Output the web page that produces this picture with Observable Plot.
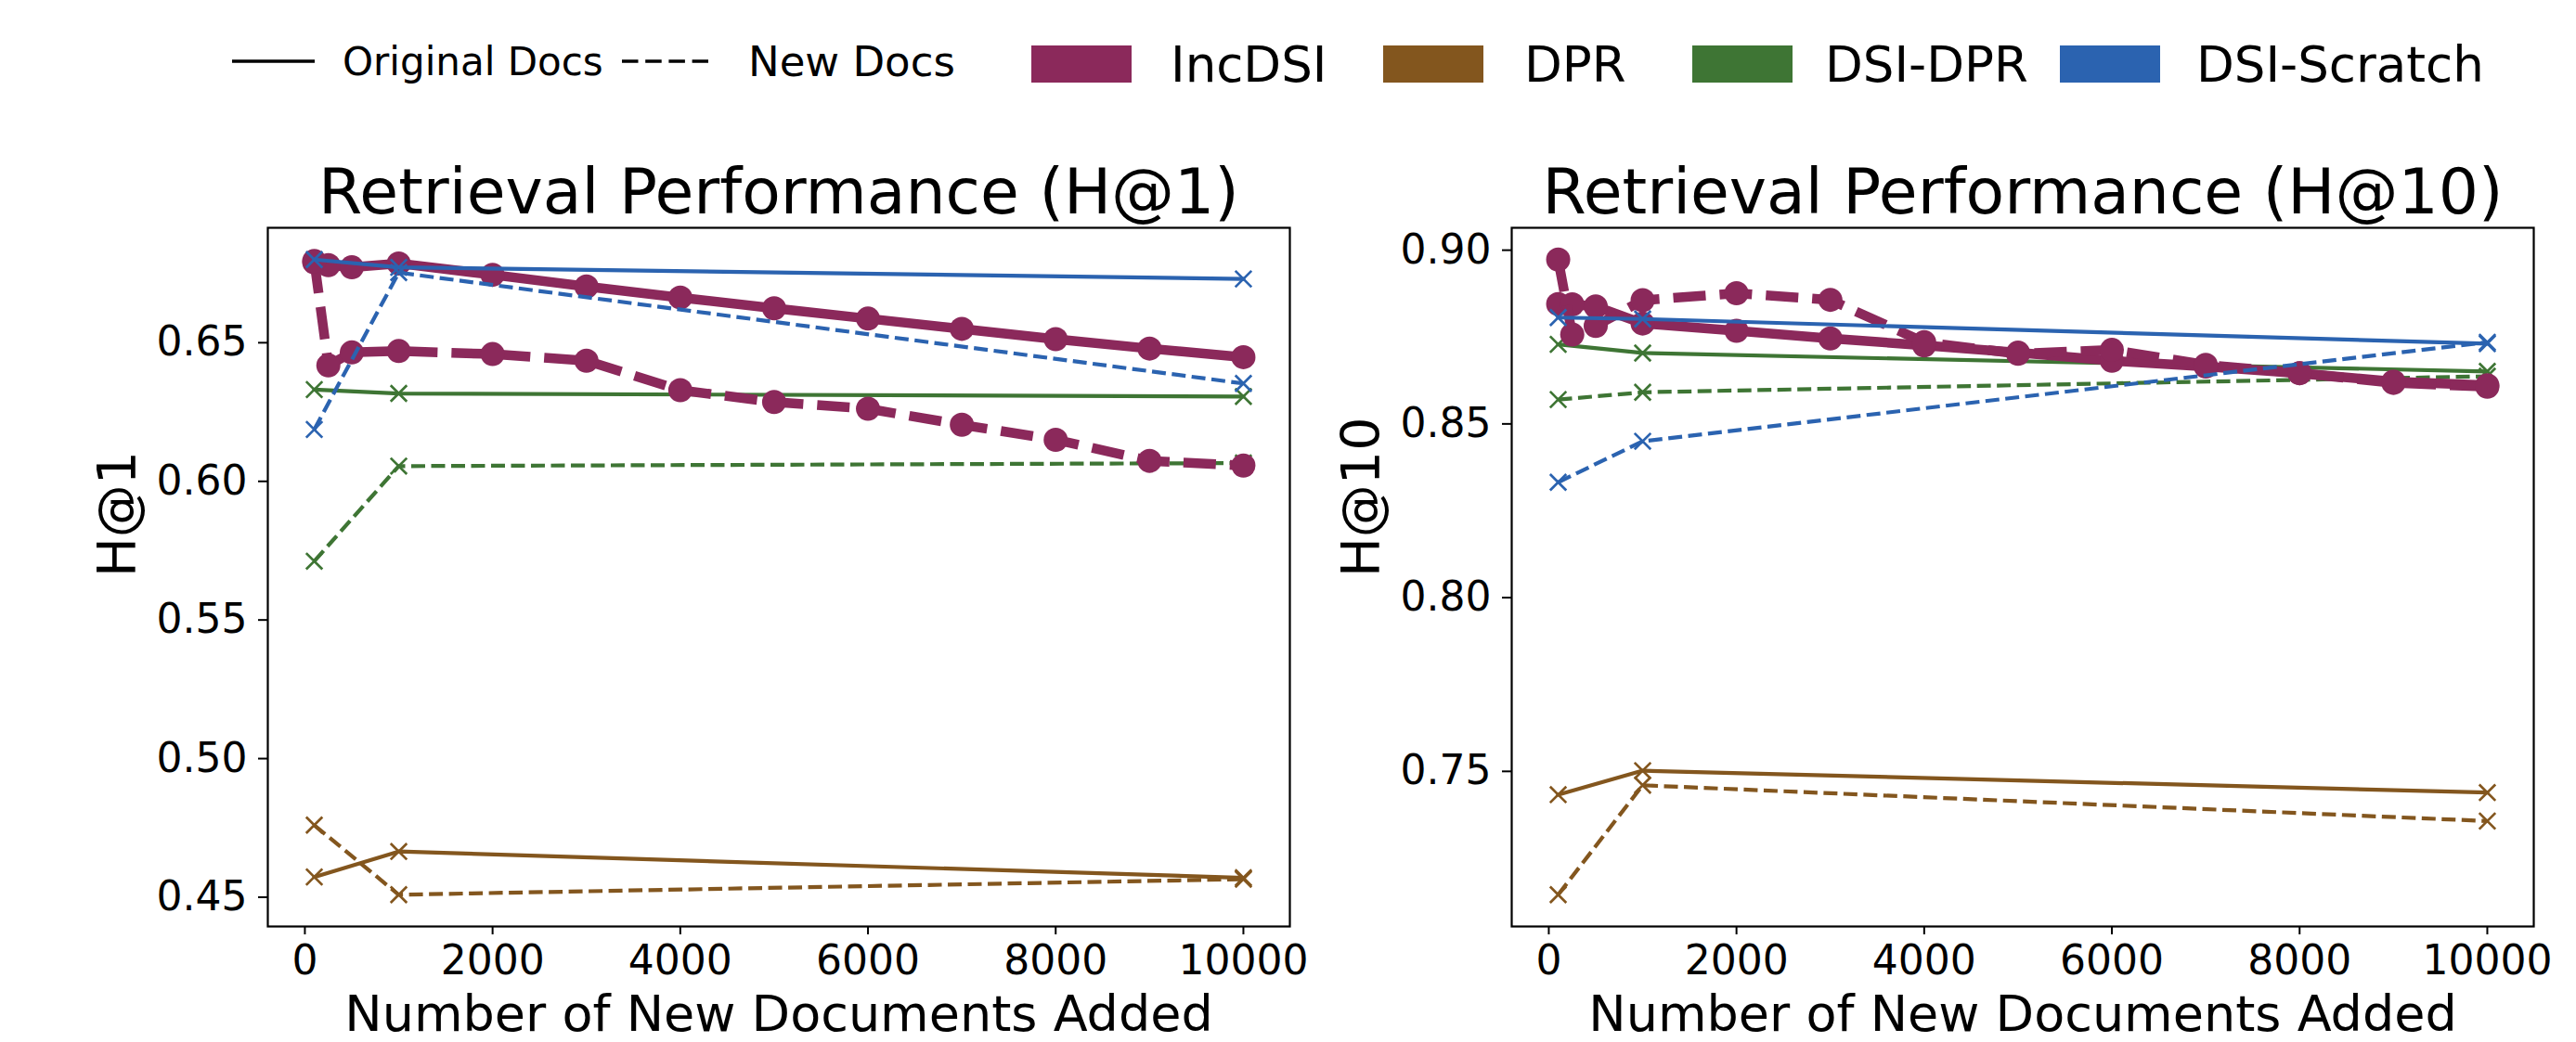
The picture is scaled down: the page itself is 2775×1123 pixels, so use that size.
<!DOCTYPE html>
<html><head><meta charset="utf-8">
<script src="https://cdn.jsdelivr.net/npm/d3@7"></script>
<script src="https://cdn.jsdelivr.net/npm/@observablehq/plot@0.6"></script>
<style>
html,body{margin:0;padding:0;background:#fff;}
#root{position:relative;width:2775px;height:1123px;overflow:hidden;font-family:"DejaVu Sans",sans-serif;}
#root svg{position:absolute;max-width:none;}
</style></head><body><div id="root"></div>
<script>
// ---------- data ----------
const xIncDSI = [100, 250, 500, 1000, 2000, 3000, 4000, 5000, 6000, 7000, 8000, 9000, 10000];
const xBaseline = [100, 1000, 10000];
const methods = ["IncDSI", "DPR", "DSI-DPR", "DSI-Scratch"];
const methodColors = ["#8b295b", "#83561e", "#3e7534", "#2b63b0"];
const docTypes = ["Original Docs", "New Docs"];
const xTicks = [0, 2000, 4000, 6000, 8000, 10000];
const h1Ticks = [0.45, 0.50, 0.55, 0.60, 0.65];
const h10Ticks = [0.75, 0.80, 0.85, 0.90];

// H@1
const h1IncDSIOrig = [0.6790, 0.6780, 0.6772, 0.6786, 0.6745, 0.6703, 0.6663, 0.6624, 0.6587, 0.6550, 0.6513, 0.6479, 0.6448];
const h1IncDSINew  = [0.6795, 0.6418, 0.6465, 0.6470, 0.6459, 0.6435, 0.6329, 0.6286, 0.6262, 0.6204, 0.6150, 0.6074, 0.6057];
const h1DPROrig = [0.4573, 0.4665, 0.4570];
const h1DPRNew  = [0.4760, 0.4509, 0.4565];
const h1DSIDPROrig = [0.6331, 0.6317, 0.6306];
const h1DSIDPRNew  = [0.5712, 0.6055, 0.6066];
const h1ScratchOrig = [0.6800, 0.6772, 0.6730];
const h1ScratchNew  = [0.6187, 0.6753, 0.6353];

// H@10
const h10IncDSIOrig = [0.8845, 0.8844, 0.8838, 0.8789, 0.8768, 0.8746, 0.8726, 0.8705, 0.8682, 0.8665, 0.8646, 0.8622, 0.8611];
const h10IncDSINew  = [0.8973, 0.8757, 0.8782, 0.8856, 0.8876, 0.8857, 0.8735, 0.8702, 0.8713, 0.8670, 0.8646, 0.8618, 0.8607];
const h10DPROrig = [0.7433, 0.7502, 0.7439];
const h10DPRNew  = [0.7145, 0.7460, 0.7357];
const h10DSIDPROrig = [0.8729, 0.8704, 0.8651];
const h10DSIDPRNew  = [0.8570, 0.8591, 0.8637];
const h10ScratchOrig = [0.8806, 0.8802, 0.8731];
const h10ScratchNew  = [0.8332, 0.8450, 0.8735];

// ---------- tables ----------
function rowsFor(method, doc, xs, ys) {
  return ys.map((y, i) => ({method, doc, x: xs[i], y}));
}
const h1Rows = [
  ...rowsFor("IncDSI", "Original Docs", xIncDSI, h1IncDSIOrig),
  ...rowsFor("IncDSI", "New Docs", xIncDSI, h1IncDSINew),
  ...rowsFor("DPR", "Original Docs", xBaseline, h1DPROrig),
  ...rowsFor("DPR", "New Docs", xBaseline, h1DPRNew),
  ...rowsFor("DSI-DPR", "Original Docs", xBaseline, h1DSIDPROrig),
  ...rowsFor("DSI-DPR", "New Docs", xBaseline, h1DSIDPRNew),
  ...rowsFor("DSI-Scratch", "Original Docs", xBaseline, h1ScratchOrig),
  ...rowsFor("DSI-Scratch", "New Docs", xBaseline, h1ScratchNew)
];
const h10Rows = [
  ...rowsFor("IncDSI", "Original Docs", xIncDSI, h10IncDSIOrig),
  ...rowsFor("IncDSI", "New Docs", xIncDSI, h10IncDSINew),
  ...rowsFor("DPR", "Original Docs", xBaseline, h10DPROrig),
  ...rowsFor("DPR", "New Docs", xBaseline, h10DPRNew),
  ...rowsFor("DSI-DPR", "Original Docs", xBaseline, h10DSIDPROrig),
  ...rowsFor("DSI-DPR", "New Docs", xBaseline, h10DSIDPRNew),
  ...rowsFor("DSI-Scratch", "Original Docs", xBaseline, h10ScratchOrig),
  ...rowsFor("DSI-Scratch", "New Docs", xBaseline, h10ScratchNew)
];

const colorOf = m => methodColors[methods.indexOf(m)];
const FONT = "DejaVu Sans";

function seriesMarks(rows) {
  const marks = [];
  const order = ["DPR", "DSI-DPR", "IncDSI", "DSI-Scratch"];
  for (const m of order) {
    for (const doc of docTypes) {
      const data = rows.filter(d => d.method === m && d.doc === doc);
      const dashed = doc === "New Docs";
      const c = colorOf(m);
      if (m === "IncDSI") {
        marks.push(Plot.line(data, {x: "x", y: "y", stroke: c, strokeWidth: 10.5,
          strokeDasharray: dashed ? "35,15" : null, strokeLinecap: dashed ? "butt" : "round", strokeLinejoin: "round"}));
        marks.push(Plot.dot(data, {x: "x", y: "y", r: 13, fill: c, stroke: "none"}));
      } else {
        marks.push(Plot.line(data, {x: "x", y: "y", stroke: c, strokeWidth: 4.2,
          strokeDasharray: dashed ? "15,6.5" : null, strokeLinecap: dashed ? "butt" : "round", strokeLinejoin: "round"}));
        marks.push(Plot.dot(data, {x: "x", y: "y", symbol: "times", r: 8, stroke: c, strokeWidth: 2.7, fill: "none"}));
      }
    }
  }
  return marks;
}

function panel({rows, title, yLabel, yTicks, left, width, marginLeft, marginRight}) {
  const [lo, hi] = d3.extent(rows, d => d.y);
  const yPad = (hi - lo) * 0.05;
  const [xlo, xhi] = d3.extent(rows, d => d.x);
  const xPad = (xhi - xlo) * 0.05;
  const svg = Plot.plot({
    width, height: 973,
    marginLeft, marginRight, marginTop: 95, marginBottom: 125,
    style: {fontFamily: FONT, color: "#000", background: "transparent", overflow: "visible"},
    x: {domain: [xlo - xPad, xhi + xPad]},
    y: {domain: [lo - yPad, hi + yPad]},
    marks: [
      ...seriesMarks(rows),
      Plot.frame({stroke: "#000", strokeWidth: 2.2}),
      Plot.axisX({ticks: xTicks, tickFormat: d3.format("d"), tickSize: 9, tickPadding: 11,
        fontSize: 44, strokeWidth: 2, label: null}),
      Plot.axisY({ticks: yTicks, tickFormat: d3.format(".2f"), tickSize: 10, tickPadding: 12,
        fontSize: 44, strokeWidth: 2, label: null}),
      Plot.text([title], {text: d => d, frameAnchor: "top", dy: -16, lineAnchor: "bottom", fontSize: 68, fill: "#000"}),
      Plot.text(["Number of New Documents Added"], {text: d => d, frameAnchor: "bottom", dy: 112, lineAnchor: "bottom", fontSize: 54, fill: "#000"}),
      Plot.text([yLabel], {text: d => d, frameAnchor: "left", dx: -143, rotate: -90, lineAnchor: "bottom", fontSize: 57, fill: "#000"})
    ]
  });
  svg.style.left = left + "px";
  svg.style.top = "150px";
  return svg;
}

const root = document.getElementById("root");
root.appendChild(panel({rows: h1Rows, title: "Retrieval Performance (H@1)", yLabel: "H@1", yTicks: h1Ticks,
  left: 0, width: 1400, marginLeft: 288, marginRight: 11}));
root.appendChild(panel({rows: h10Rows, title: "Retrieval Performance (H@10)", yLabel: "H@10", yTicks: h10Ticks,
  left: 1400, width: 1375, marginLeft: 228, marginRight: 46}));

// ---------- legend ----------
const lg = d3.create("svg").attr("width", 2775).attr("height", 150)
  .style("left", "0px").style("top", "0px")
  .attr("font-family", FONT);
lg.append("line").attr("x1", 250).attr("x2", 339).attr("y1", 66).attr("y2", 66)
  .attr("stroke", "#000").attr("stroke-width", 3.6);
lg.append("text").attr("x", 369).attr("y", 81).attr("font-size", 42).text(docTypes[0]);
lg.append("line").attr("x1", 670).attr("x2", 763).attr("y1", 66).attr("y2", 66)
  .attr("stroke", "#000").attr("stroke-width", 3.6).attr("stroke-dasharray", "17.5,7.7");
lg.append("text").attr("x", 806).attr("y", 82).attr("font-size", 45).text(docTypes[1]);
const swatchX = [1111, 1490, 1823, 2219];
const labelX = [1261, 1642, 1966, 2366];
methods.forEach((m, i) => {
  lg.append("rect").attr("x", swatchX[i]).attr("y", 49).attr("width", 108).attr("height", 40)
    .attr("fill", methodColors[i]);
  lg.append("text").attr("x", labelX[i]).attr("y", 88).attr("font-size", 53).text(m);
});
root.appendChild(lg.node());
</script>
</body></html>
